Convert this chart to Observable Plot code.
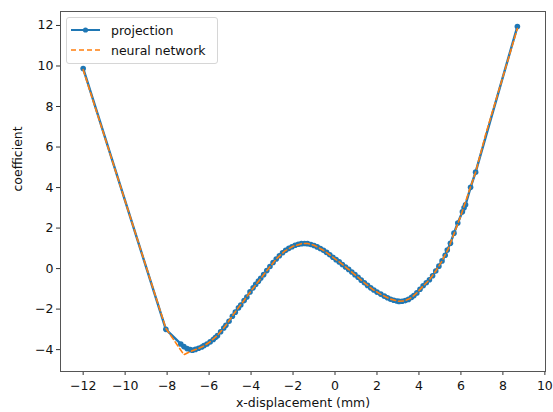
<!DOCTYPE html>
<html>
<head>
<meta charset="utf-8">
<script src="https://cdn.jsdelivr.net/npm/d3@7"></script>
<script src="https://cdn.jsdelivr.net/npm/@observablehq/plot@0.6"></script>
<style>
  html, body { margin: 0; padding: 0; background: #fff; }
  #wrap { position: relative; width: 553px; height: 412px; font-family: "DejaVu Sans", sans-serif; }
  #legend { position: absolute; left: 66px; top: 17px; width: 150px; height: 45px; border: 1px solid #d6d6d6; border-radius: 3px; background: rgba(255,255,255,0.85); font-size: 12.5px; color: #111; }
  #legend .row { position: absolute; left: 3px; height: 20px; display: flex; align-items: center; }
  #legend .row span { margin-left: 10px; }
</style>
</head>
<body>
<div id="wrap"></div>
<script>
// ---- data ----
const projX = [-12.0, -8.06, -7.35, -7.2, -7.05, -6.9, -6.79, -6.65, -6.5, -6.35, -6.24, -6.1, -5.95, -5.8, -5.7, -5.6, -5.45, -5.3, -5.2, -5.05, -4.89, -4.75, -4.6, -4.49, -4.33, -4.2, -4.05, -3.9, -3.78, -3.65, -3.54, -3.4, -3.25, -3.1, -2.95, -2.8, -2.65, -2.5, -2.35, -2.2, -2.05, -1.9, -1.75, -1.6, -1.45, -1.31, -1.15, -1.0, -0.85, -0.7, -0.55, -0.4, -0.25, -0.1, 0.05, 0.2, 0.35, 0.5, 0.65, 0.8, 0.95, 1.1, 1.25, 1.4, 1.55, 1.7, 1.85, 2.0, 2.18, 2.35, 2.5, 2.65, 2.8, 2.95, 3.05, 3.2, 3.35, 3.5, 3.65, 3.76, 3.9, 4.05, 4.2, 4.35, 4.5, 4.65, 4.8, 4.95, 5.1, 5.25, 5.35, 5.5, 5.67, 5.85, 6.07, 6.15, 6.22, 6.46, 6.7, 8.69];
const projY = [9.88, -3.0, -3.72, -3.85, -3.95, -4.0, -4.03, -3.99, -3.93, -3.87, -3.8, -3.72, -3.62, -3.5, -3.4, -3.31, -3.12, -2.93, -2.8, -2.6, -2.35, -2.15, -1.94, -1.8, -1.58, -1.4, -1.15, -0.95, -0.78, -0.62, -0.48, -0.3, -0.1, 0.1, 0.3, 0.47, 0.63, 0.78, 0.9, 1.0, 1.08, 1.15, 1.2, 1.23, 1.24, 1.23, 1.19, 1.14, 1.07, 0.99, 0.9, 0.8, 0.68, 0.56, 0.44, 0.33, 0.2, 0.08, -0.04, -0.17, -0.3, -0.43, -0.57, -0.7, -0.83, -0.95, -1.06, -1.16, -1.26, -1.36, -1.44, -1.51, -1.56, -1.6, -1.62, -1.61, -1.58, -1.52, -1.42, -1.33, -1.2, -1.02, -0.85, -0.7, -0.55, -0.35, -0.12, 0.12, 0.38, 0.66, 0.92, 1.25, 1.75, 2.25, 2.8, 3.0, 3.15, 4.01, 4.76, 11.95];

const nnX = [-12.0, -8.06, -7.2, -6.9, -6.6, -6.3, -6.0, -5.6, -5.2, -4.8, -4.4, -4.0, -3.6, -3.2, -2.8, -2.4, -2.0, -1.6, -1.3, -1.0, -0.6, -0.2, 0.2, 0.6, 1.0, 1.4, 1.8, 2.2, 2.6, 3.0, 3.3, 3.6, 3.9, 4.2, 4.5, 4.8, 5.1, 5.4, 5.7, 6.0, 6.3, 6.7, 7.2, 8.69];
const nnY = [9.82, -2.95, -4.25, -4.1, -3.98, -3.85, -3.65, -3.3, -2.8, -2.2, -1.66, -1.1, -0.57, -0.04, 0.47, 0.86, 1.1, 1.23, 1.24, 1.15, 0.93, 0.64, 0.33, 0.0, -0.34, -0.7, -1.03, -1.28, -1.49, -1.61, -1.6, -1.46, -1.2, -0.86, -0.55, -0.12, 0.38, 0.98, 1.8, 2.62, 3.55, 4.76, 6.7, 11.85];

const xTicks = [-12, -10, -8, -6, -4, -2, 0, 2, 4, 6, 8, 10];
const yTicks = [-4, -2, 0, 2, 4, 6, 8, 10, 12];
const seriesNames = ["projection", "neural network"];
const xLabel = "x-displacement (mm)";
const yLabel = "coefficient";

const proj = projX.map((x, i) => ({x, y: projY[i]}));
const nn = nnX.map((x, i) => ({x, y: nnY[i]}));

const blue = "#1f77b4", orange = "#ff7f0e";
const dash = "5,3";

const chart = Plot.plot({
  width: 553,
  height: 412,
  marginLeft: 60,
  marginRight: 8,
  marginTop: 11,
  marginBottom: 41,
  style: {fontFamily: "DejaVu Sans, sans-serif", fontSize: "12.5px", color: "#111", background: "#fff"},
  x: {domain: [-13.08, 10.03]},
  y: {domain: [-5.08, 12.69]},
  marks: [
    Plot.axisX(xTicks, {tickSize: 4, tickPadding: 6, label: null, stroke: "#333"}),
    Plot.axisY(yTicks, {tickSize: 4, tickPadding: 3, label: null, stroke: "#333"}),
    Plot.frame({stroke: "#555", strokeWidth: 1}),
    Plot.line(proj, {x: "x", y: "y", stroke: blue, strokeWidth: 2.4}),
    Plot.dot(proj, {x: "x", y: "y", r: 2.8, fill: blue, stroke: null}),
    Plot.line(nn, {x: "x", y: "y", stroke: orange, strokeWidth: 1.6, strokeDasharray: dash}),
    Plot.text([xLabel], {text: d => d, frameAnchor: "bottom", dy: 35, fontSize: 12.5, fill: "#111"}),
    Plot.text([yLabel], {text: d => d, frameAnchor: "left", dx: -43, rotate: -90, fontSize: 12.5, fill: "#111"})
  ]
});

const wrap = document.getElementById("wrap");
wrap.appendChild(chart);

// legend
const legend = document.createElement("div");
legend.id = "legend";
const rows = [
  {name: seriesNames[0], color: blue, dash: null, dot: true, top: 2, w: 2},
  {name: seriesNames[1], color: orange, dash: dash, dot: false, top: 22, w: 1.6}
];
for (const r of rows) {
  const row = document.createElement("div");
  row.className = "row";
  row.style.top = r.top + "px";
  const ns = "http://www.w3.org/2000/svg";
  const svg = document.createElementNS(ns, "svg");
  svg.setAttribute("width", 31);
  svg.setAttribute("height", 20);
  const ln = document.createElementNS(ns, "line");
  ln.setAttribute("x1", 1); ln.setAttribute("x2", 30);
  ln.setAttribute("y1", 10); ln.setAttribute("y2", 10);
  ln.setAttribute("stroke", r.color);
  ln.setAttribute("stroke-width", r.w);
  if (r.dash) ln.setAttribute("stroke-dasharray", r.dash);
  svg.appendChild(ln);
  if (r.dot) {
    const c = document.createElementNS(ns, "circle");
    c.setAttribute("cx", 15.5); c.setAttribute("cy", 10); c.setAttribute("r", 2.6);
    c.setAttribute("fill", r.color);
    svg.appendChild(c);
  }
  row.appendChild(svg);
  const sp = document.createElement("span");
  sp.textContent = r.name;
  row.appendChild(sp);
  legend.appendChild(row);
}
wrap.appendChild(legend);
</script>
</body>
</html>
